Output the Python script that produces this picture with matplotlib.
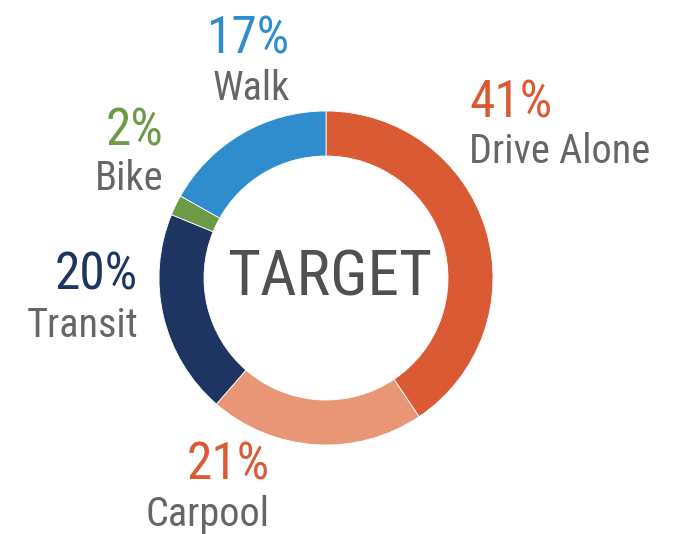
import matplotlib
matplotlib.use("Agg")
import matplotlib.pyplot as plt
from matplotlib import font_manager

# mode share target, clockwise from 12 o'clock
modes = ["Drive Alone", "Carpool", "Transit", "Bike", "Walk"]
shares = [41, 21, 20, 2, 17]
colors = ["#DA5A33", "#E89676", "#1E3461", "#6C9A47", "#2F8DCD"]
pct_colors = ["#DA5A33", "#DA5A33", "#1E3461", "#6C9A47", "#2F8DCD"]
center_label = "TARGET"

# label anchors in pixel coords (x, baseline of pct, baseline of name, ha)
label_pos = {
    "Drive Alone": (469, 118, 163, "left"),
    "Carpool": (270, 480, 526, "right"),
    "Transit": (138, 290, 337, "right"),
    "Bike": (163, 145, 190, "right"),
    "Walk": (290, 53, 100, "right"),
}

names = {f.name for f in font_manager.fontManager.ttflist}
prefer = ["Arial Narrow", "Liberation Sans Narrow", "Roboto Condensed",
          "Archivo Narrow", "PT Sans Narrow", "Fira Sans Condensed",
          "IBM Plex Sans Condensed", "Encode Sans Condensed",
          "Barlow Semi Condensed", "Open Sans Condensed", "DejaVu Sans"]
font = next(f for f in prefer if f in names or f == "DejaVu Sans")

W, H = 690, 534
fig = plt.figure(figsize=(W / 100, H / 100), dpi=100)
ax = fig.add_axes([0, 0, 1, 1])

cx, cy, r = 326, H - 278, 167
ax.pie(shares, colors=colors, startangle=90, counterclock=False,
       center=(cx, cy), radius=r, frame=True,
       wedgeprops=dict(width=45, edgecolor="white", linewidth=0.6))
ax.set_xlim(0, W)
ax.set_ylim(0, H)
ax.set_aspect("equal")
ax.axis("off")

for m, s, pc in zip(modes, shares, pct_colors):
    x, yp, yn, ha = label_pos[m]
    ax.text(x, H - yp, f"{s}%", color=pc, fontsize=37, family=font,
            ha=ha, va="baseline")
    ax.text(x, H - yn, m, color="#666666", fontsize=29, family=font,
            ha=ha, va="baseline")

ax.text(cx + 4, H - 295, center_label, color="#505050", fontsize=45.5,
        family=font, ha="center", va="baseline")

fig.savefig("out.png", dpi=100)
